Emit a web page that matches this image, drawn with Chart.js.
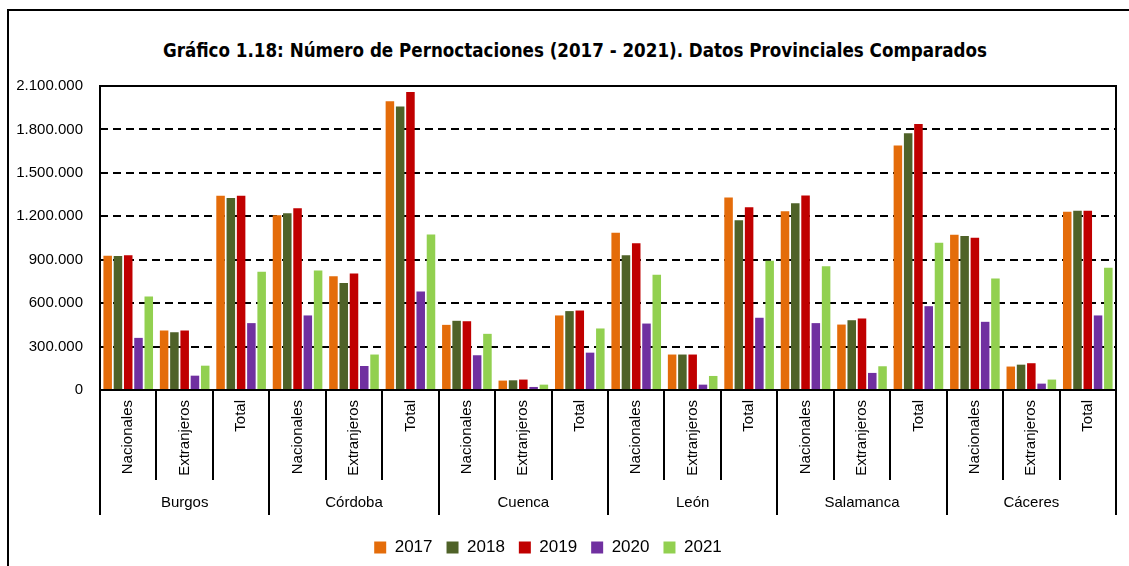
<!DOCTYPE html>
<html>
<head>
<meta charset="utf-8">
<script src="https://cdn.jsdelivr.net/npm/chart.js@4.4.1/dist/chart.umd.min.js"></script>
<style>
  html, body { margin: 0; padding: 0; background: #fff; }
  #wrap { position: relative; width: 1129px; height: 566px; overflow: hidden; }
  #frame { position: absolute; left: 7px; top: 9px; width: 1300px; height: 800px; border: 2px solid #000; box-sizing: border-box; }
  #title { position: absolute; left: 0; top: 40px; width: 1150px; text-align: center; font: bold 18.6px "DejaVu Sans Condensed", "DejaVu Sans", sans-serif; line-height: 22px; color: #000; }
  #c { position: absolute; left: 0; top: 0; }
</style>
</head>
<body>
<div id="wrap">
  <div id="frame"></div>
  <div id="title">Gráfico 1.18: Número de Pernoctaciones (2017 - 2021). Datos Provinciales Comparados</div>
  <canvas id="c" width="1129" height="566"></canvas>
</div>
<script>
const provinces = ['Burgos', 'Córdoba', 'Cuenca', 'León', 'Salamanca', 'Cáceres'];
const types = ['Nacionales', 'Extranjeros', 'Total'];
const categories = provinces.flatMap(() => types);
const years = ['2017', '2018', '2019', '2020', '2021'];
const yTicks = [0, 300000, 600000, 900000, 1200000, 1500000, 1800000, 2100000];

const s2017 = [928000, 411000, 1341000, 1207000, 785000, 1994000, 450000, 65000, 515000, 1087000, 245000, 1329000, 1235000, 452000, 1689000, 1073000, 162000, 1232000];
const s2018 = [925000, 399000, 1327000, 1221000, 739000, 1959000, 478000, 67000, 545000, 930000, 245000, 1172000, 1290000, 482000, 1773000, 1064000, 175000, 1239000];
const s2019 = [930000, 411000, 1341000, 1256000, 805000, 2059000, 475000, 72000, 549000, 1013000, 245000, 1262000, 1343000, 494000, 1837000, 1052000, 185000, 1239000];
const s2020 = [360000, 99000, 462000, 515000, 166000, 681000, 240000, 21000, 258000, 459000, 37000, 499000, 462000, 118000, 579000, 471000, 44000, 515000];
const s2021 = [646000, 168000, 817000, 826000, 245000, 1075000, 388000, 37000, 425000, 796000, 97000, 893000, 854000, 164000, 1018000, 771000, 72000, 845000];

const seriesValues = [s2017, s2018, s2019, s2020, s2021];
const colors = ['#E46C0A', '#4F6228', '#C00000', '#7030A0', '#92D050'];

const FONT = "'Liberation Sans', Arial, sans-serif";

function fmt(v) {
  return String(v).replace(/\B(?=(\d{3})+(?!\d))/g, '.');
}

const decorPlugin = {
  id: 'decor',
  afterDraw(chart) {
    const ctx = chart.ctx;
    const a = chart.chartArea;
    const xs = chart.scales.x;
    ctx.save();
    ctx.strokeStyle = '#000';
    ctx.lineWidth = 2;
    ctx.strokeRect(a.left, a.top, a.right - a.left, a.bottom - a.top);
    for (let i = 0; i <= categories.length; i++) {
      const x = Math.round(xs.getPixelForValue(i - 0.5));
      const len = (i % 3 === 0) ? 125 : 90;
      ctx.beginPath();
      ctx.moveTo(x, a.bottom);
      ctx.lineTo(x, a.bottom + len);
      ctx.stroke();
    }
    ctx.restore();
  }
};

new Chart(document.getElementById('c'), {
  type: 'bar',
  data: {
    labels: categories,
    datasets: years.map((y, i) => ({
      label: y,
      data: seriesValues[i],
      backgroundColor: colors[i],
      borderWidth: 0,
      categoryPercentage: 0.91,
      barPercentage: 0.83
    }))
  },
  options: {
    responsive: false,
    animation: false,
    devicePixelRatio: 1,
    layout: { padding: { left: -20, right: 13, top: 86, bottom: 0 } },
    plugins: {
      title: { display: false },
      tooltip: { enabled: false },
      legend: {
        position: 'bottom',
        labels: {
          boxWidth: 12,
          boxHeight: 12,
          padding: 14,
          color: '#000',
          font: { family: FONT, size: 17 }
        }
      }
    },
    scales: {
      y: {
        min: 0,
        max: 2100000,
        afterBuildTicks(scale) { scale.ticks = yTicks.map(v => ({ value: v })); },
        afterFit(scale) { scale.width = 120; },
        ticks: {
          callback: (v) => fmt(v),
          color: '#000',
          padding: 17,
          font: { family: FONT, size: 15 }
        },
        grid: {
          color: '#000',
          lineWidth: 2,
          drawTicks: false
        },
        border: { display: false, dash: [8, 5] }
      },
      x: {
        weight: 0,
        afterFit(scale) { scale.height = 90; },
        grid: { display: false, drawTicks: false },
        border: { display: true, color: '#000', width: 2 },
        ticks: {
          autoSkip: false,
          minRotation: 90,
          maxRotation: 90,
          padding: 10,
          color: '#000',
          font: { family: FONT, size: 15 }
        }
      },
      x2: {
        type: 'category',
        labels: provinces,
        position: 'bottom',
        offset: true,
        weight: 1,
        afterFit(scale) { scale.height = 45; },
        grid: { display: false, drawTicks: false },
        border: { display: false },
        ticks: {
          padding: 14,
          maxRotation: 0,
          color: '#000',
          font: { family: FONT, size: 15 }
        }
      }
    }
  },
  plugins: [decorPlugin]
});
</script>
</body>
</html>
